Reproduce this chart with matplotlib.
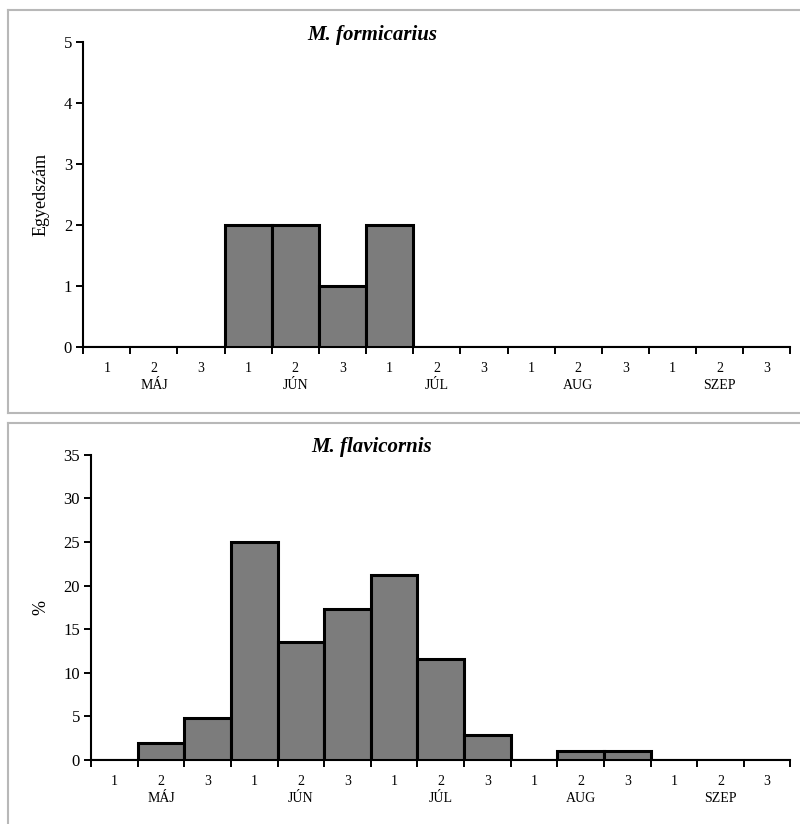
import matplotlib
matplotlib.use("Agg")
import matplotlib.pyplot as plt
from matplotlib.lines import Line2D

plt.rcParams['font.family'] = ['Liberation Serif', 'DejaVu Serif']

# decades (1-3) of each month
decades = ['1', '2', '3'] * 5
months = ['MÁJ', 'JÚN', 'JÚL', 'AUG', 'SZEP']

# M. formicarius, number of individuals
formicarius = [0, 0, 0, 2, 2, 1, 2, 0, 0, 0, 0, 0, 0, 0, 0]
# M. flavicornis, percent
flavicornis = [0, 1.92, 4.81, 25.0, 13.46, 17.31, 21.15, 11.54, 2.88,
               0, 0.96, 0.96, 0, 0, 0]

BAR_COLOR = '#7c7c7c'
BOX_COLOR = '#b8b8b8'

fig = plt.figure(figsize=(8, 8.24), dpi=100)


def draw_panel(ax, values, ymax, ystep, ylabel, title, title_y):
    x = [i + 0.5 for i in range(len(values))]
    ax.bar(x, values, width=1.0, color=BAR_COLOR, edgecolor='black',
           linewidth=2.2, zorder=3)
    ax.set_xlim(0, len(values))
    ax.set_ylim(0, ymax)
    ax.set_yticks(range(0, ymax + 1, ystep))
    ax.set_xticks(range(0, len(values) + 1))
    ax.set_xticklabels([])
    ax.set_xticks(x, minor=True)
    ax.set_xticklabels(decades, minor=True, fontsize=10)
    ax.tick_params(axis='x', which='minor', length=0, pad=11)
    ax.tick_params(axis='x', which='major', direction='out', length=5,
                   width=1.4)
    ax.tick_params(axis='y', direction='out', length=5, width=1.4,
                   labelsize=12, pad=3)
    for s in ['top', 'right']:
        ax.spines[s].set_visible(False)
    for s in ['left', 'bottom']:
        ax.spines[s].set_linewidth(1.5)
    ax.set_ylabel(ylabel, fontsize=13, labelpad=10)
    for i, m in enumerate(months):
        ax.text(3 * i + 1.5, -0.105, m, fontsize=10, ha='center', va='top',
                transform=ax.get_xaxis_transform())
    fig.text(0.465, title_y, title, fontsize=15, fontweight='bold',
             fontstyle='italic', ha='center', va='center')


ax1 = fig.add_axes([0.104, 0.579, 0.884, 0.370])
draw_panel(ax1, formicarius, 5, 1, 'Egyedszám', 'M. formicarius', 0.957)

ax2 = fig.add_axes([0.114, 0.078, 0.874, 0.370])
draw_panel(ax2, flavicornis, 35, 5, '%', 'M. flavicornis', 0.457)

# grey frames around the two panels
top_box_top, top_box_bot = 1 - 10 / 824, 1 - 413 / 824
bot_box_top = 1 - 423 / 824
for y in [top_box_top, top_box_bot, bot_box_top]:
    fig.add_artist(Line2D([0.01, 1.0], [y, y], color=BOX_COLOR, lw=1.5))
fig.add_artist(Line2D([0.01, 0.01], [top_box_bot, top_box_top],
                      color=BOX_COLOR, lw=1.5))
fig.add_artist(Line2D([0.01, 0.01], [0.0, bot_box_top],
                      color=BOX_COLOR, lw=1.5))

fig.savefig('out.png', dpi=100)
